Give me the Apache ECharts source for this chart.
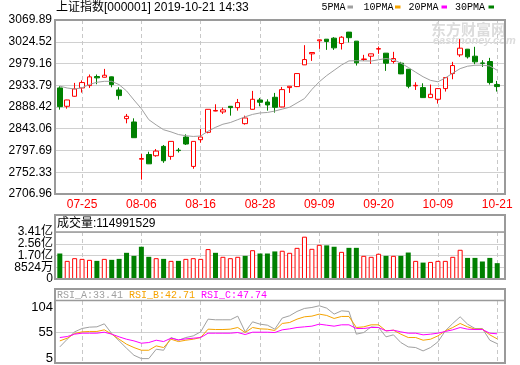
<!DOCTYPE html>
<html><head><meta charset="utf-8">
<script src="https://cdn.jsdelivr.net/npm/echarts@6/dist/echarts.min.js"></script>
<style>html,body{margin:0;padding:0;background:#fff}#c{width:520px;height:365px}</style>
</head><body><div id="c"></div>
<script>
const dates = ['07-22','07-23','07-24','07-25','07-26','07-29','07-30','07-31',
 '08-01','08-02','08-05','08-06','08-07','08-08','08-09','08-12','08-13','08-14','08-15','08-16',
 '08-19','08-20','08-21','08-22','08-23','08-26','08-27','08-28','08-29','08-30',
 '09-02','09-03','09-04','09-05','09-06','09-09','09-10','09-11','09-12','09-16','09-17','09-18','09-19','09-20',
 '09-23','09-24','09-25','09-26','09-27','09-30',
 '10-08','10-09','10-10','10-11','10-14','10-15','10-16','10-17','10-18','10-21'];
const tickDates = ['07-25','08-06','08-16','08-28','09-09','09-20','10-09','10-21'];
const openP  = [2928.2,2889.9,2910.8,2928.2,2933.1,2952.0,2950.5,2951.3,2924.0,2864.1,
 2857.2,2779.5,2789.4,2786.8,2806.3,2785.4,2798.5,2825.8,2764.5,2820.2,
 2835.6,2880.0,2878.1,2889.9,2887.1,2853.7,2883.6,2903.1,2898.9,2908.7,
 2888.5,2928.9,2931.0,2976.3,2999.3,3026.5,3029.9,3032.0,3020.9,3044.6,
 3025.8,2987.5,2994.4,3009.2,3000.7,2983.3,2979.8,2967.2,2932.6,2928.9,
 2908.0,2904.5,2926.8,2958.2,2997.2,3009.0,2994.4,2980.3,2983.3,2935.2];
const closeP = [2889.2,2903.1,2926.1,2939.4,2951.3,2949.2,2954.7,2935.2,2912.2,2869.0,
 2824.4,2781.0,2769.9,2796.5,2776.3,2816.7,2797.5,2811.2,2816.7,2825.8,
 2883.6,2881.2,2882.4,2887.1,2897.6,2865.5,2904.5,2898.3,2892.7,2887.8,
 2924.7,2931.7,2958.2,2987.4,3002.1,3028.5,3025.1,3011.8,3034.0,3033.0,
 2980.5,2988.6,2999.3,3010.2,2979.8,2989.5,2957.5,2931.7,2933.6,2908.0,
 2915.0,2926.8,2949.8,2974.9,3011.1,2993.0,2982.6,2979.5,2939.4,2931.0];
const lowP   = [2882.9,2885.0,2910.0,2918.5,2928.2,2935.9,2950.0,2929.6,2903.8,2854.4,
 2824.0,2737.0,2769.5,2784.7,2772.0,2778.4,2793.5,2809.1,2759.6,2814.0,
 2833.5,2879.5,2873.9,2870.4,2880.8,2851.6,2883.0,2889.9,2880.8,2876.7,
 2888.0,2917.8,2930.0,2976.0,2984.6,3009.7,3007.6,3007.6,3008.3,3023.0,
 2974.9,2984.6,2978.4,2999.3,2963.8,2979.1,2957.0,2927.5,2924.0,2907.5,
 2907.5,2895.5,2920.6,2946.3,2993.0,2989.5,2977.7,2972.0,2935.2,2920.6];
const highP  = [2931.7,2903.5,2938.7,2944.0,2956.2,2956.2,2967.9,2951.8,2929.6,2873.9,
 2864.8,2790.5,2795.1,2800.7,2809.1,2817.0,2803.0,2831.4,2817.0,2842.5,
 2884.0,2894.1,2887.1,2890.3,2905.2,2870.4,2922.0,2907.3,2904.5,2917.8,
 2930.3,2932.0,2958.5,3017.4,3002.5,3029.0,3030.2,3034.1,3036.2,3045.0,
 3026.0,2997.2,2999.6,3014.6,3001.0,3003.5,2982.6,2967.5,2940.0,2937.9,
 2935.2,2927.0,2950.0,2982.6,3029.9,3009.5,3013.9,2986.0,2990.9,2942.8];
const ma5 = [2932,2928,2926,2928.5,2935.5,2940,2942,2942,2935,2922,
 2903,2885,2862,2851,2841,2836.5,2831,2828.5,2827,2828,
 2838,2846,2852.5,2856,2862,2868,2873,2876,2877,2880,
 2884,2888,2897,2906,2925,2941,2954,2965,2976,2984.6,
 2985,2984.6,2984.3,2987,2989.5,2987,2980,2971,2961,2951.5,
 2944,2941,2949,2959,2968.5,2973.5,2975.5,2975.6,2974,2965];
// volume in 亿
const volume = [1.85,1.315,1.51,1.46,1.39,1.315,1.46,1.39,1.46,1.90,
 1.68,2.34,1.61,1.51,1.46,1.315,1.315,1.46,1.51,1.46,
 2.17,1.90,1.61,1.51,1.61,1.68,2.09,1.85,1.85,2.00,
 2.05,1.90,2.26,3.07,2.19,2.48,2.44,2.34,1.97,2.26,
 2.26,1.68,1.61,1.83,1.68,1.68,1.68,1.92,1.315,1.19,
 1.24,1.315,1.315,1.61,2.12,1.53,1.53,1.27,1.53,1.1499];
const latestVolume = '114991529';
const rsiA = [27.2,42,56.3,62.8,65.4,66,71.8,53,38.8,24.6,
 11,4.5,4.5,22.6,20.7,45.3,40,45.3,48.5,56.3,
 80.9,79.6,79.6,79.6,86.7,56.3,75.7,71.2,69.2,61.5,
 83,87.4,95.8,101.6,103.5,106.8,102.2,90.6,97,95.8,
 51.8,55,66,64.7,46.6,50.5,35.6,27.2,25.9,19.4,
 25.9,36.9,58.2,72.5,85.4,71.2,62.8,62.8,40.1,33.4];
const rsiB = [38.8,44,53,56.3,57,57,60.2,51.8,42,32.4,
 25.9,20.7,20.7,29.1,25.9,42,37.5,40.1,42,45.3,
 61.5,60.8,60.8,61.5,64.7,55,64.7,62.1,61.5,58.9,
 72.5,74.4,80.9,85.4,86.7,90.6,88,82.2,86.1,86.1,
 64.7,66,69.9,69.9,58.2,59.5,51.8,45.3,45.3,40.1,
 42,48.5,58.2,64.7,72.5,66,61.5,61.5,50.5,42.7];
const rsiC = [45.3,47.2,51.8,53.7,53.7,53.7,55.6,51.8,46.6,42,
 38.8,34.3,35.6,40.1,37.5,44,40.8,42.7,44,45.3,
 53.7,53.7,53.7,53.7,55,51.1,55.6,55.6,55.6,55,
 60.2,62.1,64.7,66,67.3,71.2,69.2,67.3,69.9,69.9,
 62.8,62.8,64.7,64.7,58.2,59.5,56.3,53.7,53.7,50.5,
 51.8,53.7,57,60.2,64.7,61.5,60.8,60.8,53.7,52.5];
const rsiLatest = ['33.41','42.71','47.74'];
const priceTicks = [2706.96,2752.33,2797.69,2843.06,2888.42,2933.79,2979.16,3024.52,3069.89];
const volTicks = [0,0.8524,1.7048,2.5572,3.4096];
const rsiTicks = [5,55,104];
const rsiGrid = [55];

const RED = '#ff0000', GREEN = '#008000', GRAY = '#a0a0a0', ORANGE = '#f5a300', MAG = '#ff00ff';
const SANS = '"Liberation Sans","Noto Sans CJK SC",sans-serif';
const MONO = '"Liberation Mono","Noto Sans CJK SC",monospace';
const tickIdx = tickDates.map(d => dates.indexOf(d));
const volTicksEven = volTicks.filter((v, i) => i % 2 === 0);
const volTicksOdd = volTicks.filter((v, i) => i % 2 === 1);

function xAx(gi, showLabel) {
  return {
    type: 'value', gridIndex: gi, min: -0.65, max: 60.05,
    axisLine: {show: false},
    axisTick: {show: false, customValues: tickIdx},
    axisLabel: {show: showLabel, customValues: tickIdx, formatter: v => dates[Math.round(v)],
      color: RED, fontSize: 12, fontFamily: SANS, margin: 5, hideOverlap: false, interval: 0},
    splitLine: {show: true, lineStyle: {color: '#c8c8c8', type: [4, 3], width: 1}}
  };
}
const splitSolid = {show: true, lineStyle: {color: '#d0d0d0', width: 1}};
const yLabelBase = {color: '#000', fontFamily: SANS, hideOverlap: false, showMinLabel: true, showMaxLabel: true, interval: 0};

const candleData = dates.map((d, i) => [i, openP[i], closeP[i], lowP[i], highP[i]]);
const volData = volume.map((v, i) => {
  const up = i === 0 ? closeP[0] >= openP[0] : closeP[i] >= closeP[i - 1];
  return {value: [i, v], itemStyle: up ? {color: '#fff', borderColor: RED, borderWidth: 1} : {color: GREEN}};
});
const pair = arr => arr.map((v, i) => [i, v]);

function volFmt(v) {
  if (v <= 0.0001) return '0';
  if (v >= 1) return v.toFixed(2) + '亿';
  return Math.round(v * 1e4) + '万';
}

const frameStyle = {fill: 'none', stroke: '#9a9a9a', lineWidth: 2};
const graphics = [
  {type: 'rect', shape: {x: 55, y: 20, width: 450, height: 174}, style: frameStyle, z: 100, silent: true},
  {type: 'rect', shape: {x: 55, y: 215, width: 450, height: 64}, style: frameStyle, z: 100, silent: true},
  {type: 'line', shape: {x1: 55, y1: 232, x2: 505, y2: 232}, style: {stroke: '#9a9a9a', lineWidth: 1.5}, z: 100, silent: true},
  {type: 'rect', shape: {x: 55, y: 289, width: 450, height: 74}, style: frameStyle, z: 100, silent: true},
  {type: 'line', shape: {x1: 55, y1: 300.5, x2: 505, y2: 300.5}, style: {stroke: '#9a9a9a', lineWidth: 1.5}, z: 100, silent: true},
  {type: 'text', x: 56, y: 7.5, style: {text: '上证指数[000001] 2019-10-21 14:33', font: '12px ' + SANS, fill: '#000', verticalAlign: 'middle'}},
  {type: 'text', x: 57, y: 224, style: {text: '成交量:' + latestVolume, font: '12px ' + SANS, fill: '#000', verticalAlign: 'middle'}},
  {type: 'text', x: 431, y: 29, style: {text: '东方财富网', font: 'bold 15px "Noto Sans CJK SC"', fill: '#dcdcdc', verticalAlign: 'middle'}, z: 1},
  {type: 'text', x: 433, y: 41, style: {text: 'eastmoney.com', font: 'italic bold 11px ' + SANS, fill: '#dcdcdc', verticalAlign: 'middle'}, z: 1}
];
const legendItems = [['5PMA', GRAY, 321.5, 347.5], ['10PMA', ORANGE, 363.5, 395], ['20PMA', MAG, 408.5, 441.5], ['30PMA', GREEN, 455, 488.5]];
legendItems.forEach(([t, c, tx, sx]) => {
  graphics.push({type: 'text', x: tx, y: 7.5, style: {text: t, font: '10px ' + MONO, fill: '#000', verticalAlign: 'middle'}});
  graphics.push({type: 'rect', shape: {x: sx, y: 5.5, width: 5.5, height: 3}, style: {fill: c}});
});
[['RSI_A:', GRAY, 57], ['RSI_B:', ORANGE, 129], ['RSI_C:', MAG, 201]].forEach(([t, c, x], k) => {
  graphics.push({type: 'text', x: x, y: 295, style: {text: t + rsiLatest[k], font: '10px ' + MONO, fill: c, verticalAlign: 'middle'}});
});

const chart = echarts.init(document.getElementById('c'), null, {renderer: 'canvas'});
chart.setOption({
  animation: false,
  backgroundColor: '#fff',
  grid: [
    {left: 55, top: 20, width: 450, height: 174},
    {left: 55, top: 232, width: 450, height: 47},
    {left: 55, top: 301, width: 450, height: 62}
  ],
  xAxis: [xAx(0, true), xAx(1, false), xAx(2, false)],
  yAxis: [
    {type: 'value', gridIndex: 0, min: priceTicks[0], max: priceTicks[priceTicks.length - 1],
      axisLine: {show: false}, axisTick: {show: false, customValues: priceTicks},
      axisLabel: Object.assign({customValues: priceTicks, formatter: v => v.toFixed(2), fontSize: 12, margin: 3}, yLabelBase),
      splitLine: splitSolid},
    {type: 'value', gridIndex: 1, min: volTicks[0], max: volTicks[volTicks.length - 1],
      axisLine: {show: false}, axisTick: {show: false, customValues: volTicks},
      axisLabel: Object.assign({customValues: volTicksEven, formatter: volFmt, fontSize: 12, margin: 2}, yLabelBase),
      splitLine: splitSolid},
    {type: 'value', gridIndex: 2, min: -4, max: 116,
      axisLine: {show: false}, axisTick: {show: false, customValues: rsiGrid},
      axisLabel: Object.assign({customValues: rsiTicks, fontSize: 13, margin: 2}, yLabelBase),
      splitLine: splitSolid},
    {type: 'value', gridIndex: 1, position: 'left', min: volTicks[0], max: volTicks[volTicks.length - 1],
      axisLine: {show: false}, axisTick: {show: false, customValues: volTicksOdd},
      axisLabel: Object.assign({customValues: volTicksOdd, formatter: volFmt, fontSize: 12, margin: 2}, yLabelBase),
      splitLine: {show: false}}
  ],
  series: [
    {type: 'candlestick', xAxisIndex: 0, yAxisIndex: 0, data: candleData, encode: {x: 0, y: [1, 2, 3, 4]},
      barWidth: 5,
      itemStyle: {color: '#fff', color0: GREEN, borderColor: RED, borderColor0: GREEN, borderWidth: 1}},
    {type: 'line', name: '5PMA', xAxisIndex: 0, yAxisIndex: 0, data: pair(ma5), symbol: 'none',
      lineStyle: {color: GRAY, width: 1}},
    {type: 'bar', xAxisIndex: 1, yAxisIndex: 1, data: volData, barWidth: 5},
    {type: 'line', xAxisIndex: 2, yAxisIndex: 2, data: pair(rsiA), symbol: 'none', lineStyle: {color: GRAY, width: 1}},
    {type: 'line', xAxisIndex: 2, yAxisIndex: 2, data: pair(rsiB), symbol: 'none', lineStyle: {color: ORANGE, width: 1}},
    {type: 'line', xAxisIndex: 2, yAxisIndex: 2, data: pair(rsiC), symbol: 'none', lineStyle: {color: MAG, width: 1}}
  ],
  graphic: graphics
});
</script></body></html>
